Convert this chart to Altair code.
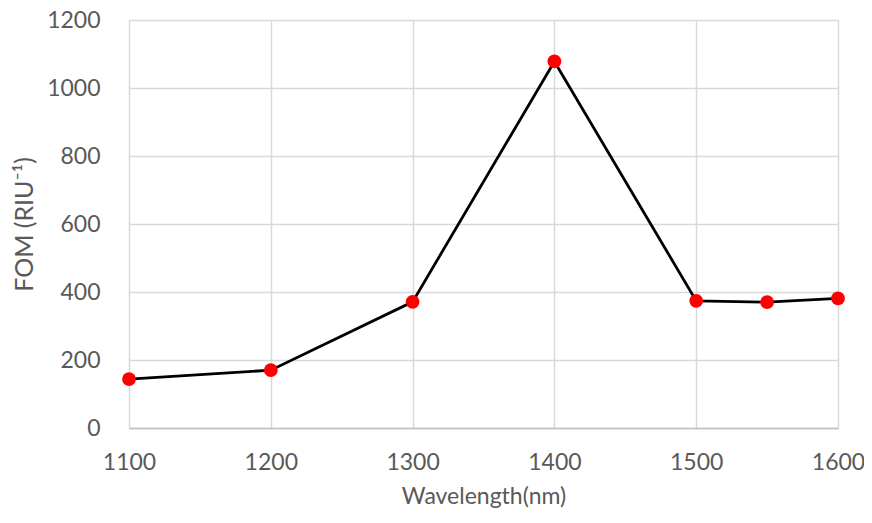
import altair as alt
import pandas as pd

wavelength = [1100, 1200, 1300, 1400, 1500, 1550, 1600]
fom = [144, 170, 371, 1078, 374, 370, 381]

df = pd.DataFrame({"Wavelength": wavelength, "FOM": fom})

F = "Lato"
x = alt.X("Wavelength:Q",
          scale=alt.Scale(domain=[1100, 1600], nice=False, zero=False),
          axis=alt.Axis(title="Wavelength(nm)", values=[1100, 1200, 1300, 1400, 1500, 1600],
                        format="d", labelFontSize=23, titleFontSize=23, labelColor="#595959",
                        titleColor="#595959", titleFontWeight="normal", labelPadding=23,
                        titlePadding=11, domainColor="#bfbfbf", domainWidth=1.5, ticks=False,
                        labelFlush=False,
                        gridColor="#d9d9d9", gridWidth=1.5, labelFont=F, titleFont=F))
y = alt.Y("FOM:Q",
          scale=alt.Scale(domain=[0, 1200], nice=False),
          axis=alt.Axis(title="FOM (RIU⁻¹)", values=list(range(0, 1201, 200)), format="d",
                        labelFontSize=23, titleFontSize=25, labelColor="#595959",
                        titleColor="#595959", titleFontWeight="normal", labelPadding=29,
                        titlePadding=9, domain=False, ticks=False, labelFlush=False,
                        gridColor="#d9d9d9", gridWidth=1.5, labelFont=F, titleFont=F))

base = alt.Chart(df)
line = base.mark_line(color="black", strokeWidth=2.8).encode(x=x, y=y)
pts = base.mark_circle(color="#ff0000", size=190, opacity=1).encode(x=x, y=y)

chart = (line + pts).properties(
    width=709, height=408,
    autosize=alt.AutoSizeParams(type="none"),
    padding={"left": 121, "top": 12, "right": 26, "bottom": 86},
).configure_view(stroke=None).configure(background="white")

chart.save("out.html", embed_options={"renderer": "svg", "actions": False})
